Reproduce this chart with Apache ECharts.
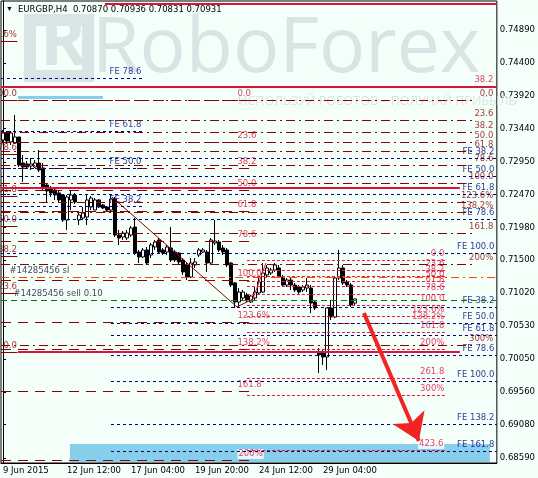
<!DOCTYPE html>
<html><head><meta charset="utf-8">
<script src="https://cdn.jsdelivr.net/npm/echarts@6/dist/echarts.min.js"></script>
<style>html,body{margin:0;padding:0;background:#F5FFFA}#c{width:538px;height:478px}</style>
</head><body><div id="c"></div><script>
// ---------------- data ----------------
const symbolName = 'EURGBP,H4';
const slotCount = 124;
const xTickIndex = [0, 16, 32, 48, 64, 80];
const xTickText = ['9 Jun 2015', '12 Jun 12:00', '17 Jun 04:00', '19 Jun 20:00', '24 Jun 12:00', '29 Jun 04:00'];
const yTicks = [0.74890, 0.74400, 0.73920, 0.73440, 0.72950, 0.72470, 0.71980, 0.71500, 0.71020, 0.70530, 0.70050, 0.69560, 0.69080, 0.68590];
const yMin = 0.68516, yMax = 0.75317;
// [open, close, low, high]
const candles = [
[0.73271,0.73374,0.73227,0.73418],[0.73374,0.73256,0.73212,0.73403],[0.73241,0.73374,0.73197,0.73403],[0.73227,0.73315,0.73212,0.73639],
[0.73315,0.72903,0.72873,0.73315],[0.72932,0.72873,0.72653,0.73050],[0.72918,0.72873,0.72859,0.72962],[0.72888,0.72918,0.72829,0.73006],
[0.72873,0.72932,0.72859,0.72976],[0.72932,0.72829,0.72800,0.73124],[0.72859,0.72564,0.72535,0.72932],[0.72608,0.72520,0.72358,0.72638],
[0.72564,0.72491,0.72432,0.72594],[0.72535,0.72461,0.72388,0.72564],[0.72491,0.72388,0.72358,0.72520],[0.72461,0.72093,0.72064,0.72476],
[0.72093,0.72432,0.71946,0.72461],[0.72388,0.72461,0.72240,0.72520],[0.72461,0.72358,0.72329,0.72491],[0.72093,0.72167,0.72020,0.72196],
[0.72123,0.72196,0.72093,0.72285],[0.72137,0.72388,0.72020,0.72461],[0.72285,0.72417,0.72240,0.72447],[0.72240,0.72388,0.72240,0.72417],
[0.72388,0.72285,0.72270,0.72402],[0.72314,0.72270,0.72255,0.72329],[0.72285,0.72240,0.72226,0.72299],[0.72240,0.72402,0.72211,0.72476],
[0.72402,0.71872,0.71843,0.72432],[0.71872,0.71828,0.71725,0.71946],[0.71843,0.71902,0.71799,0.71931],[0.71828,0.71902,0.71799,0.71946],
[0.71872,0.71975,0.71843,0.72005],[0.71990,0.71607,0.71578,0.72123],[0.71622,0.71549,0.71460,0.71652],[0.71549,0.71652,0.71534,0.71681],
[0.71652,0.71460,0.71431,0.71696],[0.71578,0.71725,0.71534,0.71755],[0.71696,0.71769,0.71652,0.71799],[0.71799,0.71622,0.71607,0.71828],
[0.71652,0.71607,0.71578,0.71681],[0.71622,0.71696,0.71578,0.71725],[0.71681,0.71504,0.71475,0.71990],[0.71622,0.71504,0.71475,0.71652],
[0.71607,0.71475,0.71431,0.71622],[0.71504,0.71328,0.71284,0.71534],[0.71431,0.71254,0.71210,0.71460],[0.71254,0.71460,0.71239,0.71534],
[0.71431,0.71475,0.71387,0.71534],[0.71578,0.71652,0.71549,0.71681],[0.71622,0.71652,0.71607,0.71681],[0.71622,0.71460,0.71328,0.71652],
[0.71460,0.71799,0.71431,0.71828],[0.71755,0.71784,0.71725,0.72093],[0.71769,0.71652,0.71622,0.71799],[0.71681,0.71622,0.71578,0.71725],
[0.71652,0.71431,0.71401,0.71681],[0.71460,0.71136,0.71107,0.71475],[0.71166,0.70886,0.70798,0.71181],[0.70886,0.71033,0.70798,0.71092],
[0.70945,0.71033,0.70916,0.71063],[0.70989,0.70916,0.70886,0.71019],[0.70886,0.70974,0.70871,0.70989],[0.70945,0.71033,0.70916,0.71107],
[0.71019,0.71181,0.70989,0.71254],[0.71033,0.71313,0.71019,0.71460],[0.71284,0.71387,0.71254,0.71431],[0.71313,0.71357,0.71284,0.71387],
[0.71357,0.71431,0.71328,0.71460],[0.71387,0.71254,0.71239,0.71431],[0.71254,0.71136,0.71107,0.71284],[0.71136,0.71210,0.71107,0.71239],
[0.71210,0.71136,0.71063,0.71239],[0.71136,0.71063,0.71033,0.71166],[0.71107,0.71033,0.70989,0.71136],[0.71063,0.71107,0.71033,0.71136],
[0.71092,0.71136,0.71033,0.71239],[0.71092,0.70871,0.70724,0.71136],[0.70886,0.70798,0.70768,0.70916],[0.70150,0.70106,0.69841,0.70209],
[0.70135,0.70077,0.69959,0.70180],[0.70077,0.70798,0.69886,0.70798],[0.70798,0.70665,0.70621,0.70916],[0.70665,0.71239,0.70651,0.71269],
[0.71239,0.71387,0.71210,0.71652],[0.71387,0.71166,0.71136,0.71431],[0.71181,0.71136,0.71107,0.71210],[0.71136,0.70842,0.70813,0.71166],
[0.70870,0.70931,0.70831,0.70936]
];

// Fibonacci retracement A (right labels)
const fibA_levels = [0.73860,0.73565,0.73389,0.73241,0.73109,0.72903,0.72638,0.72358,0.72211,0.71902,0.71446,0.70253];
const fibA_labels = ['0.0','23.6','38.2','50.0','61.8','78.6','100.0','123.6%','138.2%','161.8','200%','300%'];
// Fibonacci retracement B (middle labels)
const fibB_levels = [0.73860,0.73241,0.72859,0.72535,0.72226,0.71784,0.71210,0.70592,0.70194,0.69576,0.68560];
const fibB_labels = ['0.0','23.6','38.2','50.0','61.8','78.6','100.0','123.6%','138.2%','161.8','200%'];
// Fibonacci retracement C (recent swing)
const fibC_levels = [0.71504,0.71357,0.71269,0.71195,0.71122,0.71004,0.70842,0.70680,0.70577,0.70445,0.70194,0.69767,0.69517,0.68708];
const fibC_labels = ['0.0','23.6','38.2','50.0','61.8','78.6','100.0','123.6%','138.2%','161.8','200%','261.8','300%','423.6'];
// Fibonacci retracement D (labels on the left edge)
const fibD_levels = [0.74728,0.73860,0.73065,0.72447,0.72005,0.71563,0.71019,0.70150];
const fibD_labels = ['123.6%','100.0','78.6','61.8','50.0','38.2','23.6','0.0'];
// big retracement drawn as thick crimson lines
const fibE_levels = [0.75273,0.74051,0.72564,0.70150];
const fibE_labels = ['','38.2','',''];
// Fibonacci expansions
const feL_levels = [0.74183,0.73403,0.72859,0.72299];
const feL_labels = ['FE 78.6','FE 61.8','FE 50.0','FE 38.2'];
const feR1_levels = [0.73006,0.72741,0.72476,0.72108,0.71607];
const feR1_labels = ['FE 38.2','FE 50.0','FE 61.8','FE 78.6','FE 100.0'];
const feR2_levels = [0.70813,0.70577,0.70400,0.70106,0.69723,0.69090,0.68693];
const feR2_labels = ['FE 38.2','FE 50.0','FE 61.8','FE 78.6','FE 100.0','FE 138.2','FE 161.8'];
// order lines
const orderPrices = [0.71254, 0.70916];
const orderLabels = ['#14285456 sl', '#14285456 sell 0.10'];
// trend lines [k0, p0, k1, p1]
const trendLines = [[27.25,0.72432,58.5,0.70813],[58.5,0.70813,62.5,0.70930],[62.5,0.70930,65.75,0.71460]];
// forecast arrow [k0, p0, k1, p1]
const arrowLine = [90.25,0.70724,104,0.68840];
// rectangles [k0, pTop, k1, pBottom]
const rects = [[3.75,0.73918,25,0.73874],[16.75,0.68796,121.75,0.68531]];

// ---------------- styling / assembly ----------------
const FONT = 'DejaVu Sans';
const FS = 8.5;
const groups = [
  {levels: fibB_levels, labels: fibB_labels, from: -0.5, to: 62, line: {color:'#8B0000', type:[10,7], width:1}, labelK: 58.5, side:'right', color:'#DC143C', bg:true},
  {levels: fibA_levels, labels: fibA_labels, from: -0.5, to: 118, line: {color:'#8B0000', type:[9,4,2,4], width:1}, labelK: 122.75, side:'left', color:'#8B0000'},
  {levels: fibC_levels, labels: fibC_labels, from: 61, to: 110.5, line: {color:'#E8183C', type:[3,2], width:1}, labelK: 110.5, side:'left', color:'#E0103C', bg:true},
  {levels: fibD_levels, labels: fibD_labels, from: -0.5, to: 3.6, line: {color:'#8B0000', type:'solid', width:1}, labelK: 3.6, side:'left', color:'#8B0000'},
  {levels: feL_levels, labels: feL_labels, from: -0.5, to: 34.75, line: {color:'#000080', type:[3,3], width:1}, labelK: 34.75, side:'left', color:'#000080'},
  {levels: feR1_levels, labels: feR1_labels, from: -0.5, to: 123.5, line: {color:'#000080', type:[3,3], width:1}, labelK: 123, side:'left', color:'#000080'},
  {levels: feR2_levels, labels: feR2_labels, from: 27, to: 123.5, line: {color:'#000080', type:[3,3], width:1}, labelK: 123, side:'left', color:'#000080'},
];
const eRanges = [[25.5,123.5],[-0.5,123.5],[-0.5,114.25],[3.75,114.25]];

const lineData = [];
const labelData = [];
const rectTop = rects[1][1];
groups.forEach(g => {
  g.levels.forEach((p, i) => {
    const st = Object.assign({}, g.line);
    lineData.push([{coord:[g.from, p], lineStyle: st}, {coord:[g.to, p], lineStyle: st}]);
    if (g.labels[i]) {
      const lb = {position: g.side, distance: 0, color: g.color, offset: [0, -6], fontFamily: FONT, fontSize: FS};
      if (g.bg && p < rectTop) { lb.backgroundColor = '#FFFFFF'; lb.padding = [1, 1, 0, 1]; }
      labelData.push({name: g.labels[i], value: [g.labelK, p], label: lb});
    }
  });
});
// thick crimson lines
const thickLines = [];
fibE_levels.forEach((p, i) => {
  const st = {color:'#DC143C', type:'solid', width:2};
  thickLines.push([{coord:[eRanges[i][0], p], lineStyle: st}, {coord:[eRanges[i][1], p], lineStyle: st}]);
  if (fibE_labels[i]) labelData.push({name: fibE_labels[i], value:[122.75, p], label:{position:'left', distance:0, color:'#DC143C', offset:[0,-7], fontFamily:FONT, fontSize:FS}});
});
// order lines
const orderStyles = [{color:'#FF4500', type:[8,4,2,4], width:1}, {color:'#008000', type:[6,4], width:1}];
const orderLabelK = [1.5, 2.5];
orderPrices.forEach((p, i) => {
  lineData.push([{coord:[-0.5, p], lineStyle: orderStyles[i]}, {coord:[123.5, p], lineStyle: orderStyles[i]}]);
  labelData.push({name: orderLabels[i], value:[orderLabelK[i], p], label:{position:'right', distance:0, color:'#101030', offset:[0,-6], fontFamily:FONT, fontSize:FS}});
});
// trend lines
trendLines.forEach((t, i) => {
  const st = {color: i === 2 ? '#DC143C' : '#8B0000', type:'solid', width:1};
  lineData.push([{coord:[t[0], t[1]], lineStyle: st}, {coord:[t[2], t[3]], lineStyle: st}]);
});

const last = candles[candles.length - 1];
const header = symbolName + '  ' + [last[0], last[3], last[2], last[1]].map(v => v.toFixed(5)).join(' ');

const chart = echarts.init(document.getElementById('c'), null, {renderer: 'canvas'});
const tickFn = (i) => xTickIndex.indexOf(i) >= 0;
const WM = '#D8E5E4';
chart.setOption({
  backgroundColor: '#F5FFFA',
  animation: false,
  textStyle: {fontFamily: FONT},
  grid: {left: 1, right: 41, top: 1, bottom: 15, show: true, borderColor: '#000', borderWidth: 1, backgroundColor: 'transparent'},
  graphic: {elements: [
    {type:'rect', z: 1, shape:{x: 30, y: 20, width: 58, height: 56}, style:{fill:'none', stroke: WM, lineWidth: 12}},
    {type:'text', x: 40, y: 10, z: 1, style:{text:'R', fontSize: 70, fontWeight:'bold', fontFamily:'Open Sans', fill: WM}},
    {type:'text', x: 92, y: 12, z: 1, style:{text:'RoboForex', fontSize: 77, fontFamily:'Open Sans', fill: WM}},
    {type:'text', x: 238, y: 95, z: 1, style:{text:'ИСПОЛЬЗУЙ РОБОТОВ – ПОЛУЧАЙ ПРИБЫЛЬ', fontSize: 12.5, fontFamily:'Open Sans', fill: WM}},
    {type:'text', x: 6, y: 6, z: 10, style:{text:'▼', fontSize: 7, fill:'#000'}},
    {type:'text', x: 18, y: 5, z: 10, style:{text: header, fontSize: FS, fontFamily: FONT, fill:'#000'}}
  ]},
  xAxis: [
    {type:'category', data: Array.from({length: slotCount}, (_, i) => String(i)), boundaryGap: true,
     axisLine:{lineStyle:{color:'#000'}},
     axisTick:{interval: tickFn, alignWithLabel: true, length: 3, lineStyle:{color:'#000'}},
     axisLabel:{interval: tickFn, formatter: (v, i) => xTickText[xTickIndex.indexOf(i)] || '', align:'left', margin: 3, color:'#000', fontSize: FS, fontFamily: FONT},
     splitLine:{show:false}},
    {type:'value', min: -0.5, max: slotCount - 0.5, show: false}
  ],
  yAxis: {type:'value', position:'right', min: yMin, max: yMax, scale: true,
    axisLine:{show:true, lineStyle:{color:'#000'}},
    axisTick:{show:true, length: 3, customValues: yTicks, lineStyle:{color:'#000'}},
    axisLabel:{customValues: yTicks, formatter: v => v.toFixed(5), margin: 3, color:'#000', fontSize: FS, fontFamily: FONT},
    splitLine:{show:false}},
  series: [
    {type:'line', xAxisIndex:1, yAxisIndex:0, data:[], z:1, silent:true,
     markArea:{silent:true, data: rects.map(r => [{coord:[r[0], r[1]], itemStyle:{color:'#87CEEB'}}, {coord:[r[2], r[3]]}])}},
    {type:'line', xAxisIndex:1, yAxisIndex:0, data:[], z:2, silent:true,
     markLine:{silent:true, symbol:['none','none'], animation:false, label:{show:false}, data: lineData}},
    {type:'line', xAxisIndex:1, yAxisIndex:0, data:[], z:2, silent:true,
     markLine:{silent:true, symbol:['none','none'], animation:false, label:{show:false}, clip:false, data: thickLines}},
    {type:'candlestick', xAxisIndex:0, yAxisIndex:0, z:3, barWidth: 3, data: candles,
     itemStyle:{color:'#FFFFFF', color0:'#000000', borderColor:'#000000', borderColor0:'#000000', borderWidth:1},
     markLine:{silent:true, symbol:['none','none'], animation:false, lineStyle:{opacity:0},
       data:[{yAxis: last[1]}],
       label:{position:'end', distance: 1, formatter: p => Number(p.value).toFixed(5), backgroundColor:'#000', color:'#fff', padding:[2,2,1,2], fontSize: FS, fontFamily: FONT}}},
    {type:'scatter', xAxisIndex:1, yAxisIndex:0, z:4, symbolSize: 1, itemStyle:{color:'transparent'}, silent:true, clip:false,
     label:{show:true, formatter: p => p.name}, data: labelData},
    {type:'line', xAxisIndex:1, yAxisIndex:0, data:[], z:5, silent:true,
     markLine:{silent:true, symbol:['none','arrow'], symbolSize: 26, animation:false, label:{show:false},
       lineStyle:{color:'#F02424', width:4, type:'solid'},
       data:[[{coord:[arrowLine[0], arrowLine[1]]}, {coord:[arrowLine[2], arrowLine[3]]}]]}}
  ]
});
</script></body></html>
